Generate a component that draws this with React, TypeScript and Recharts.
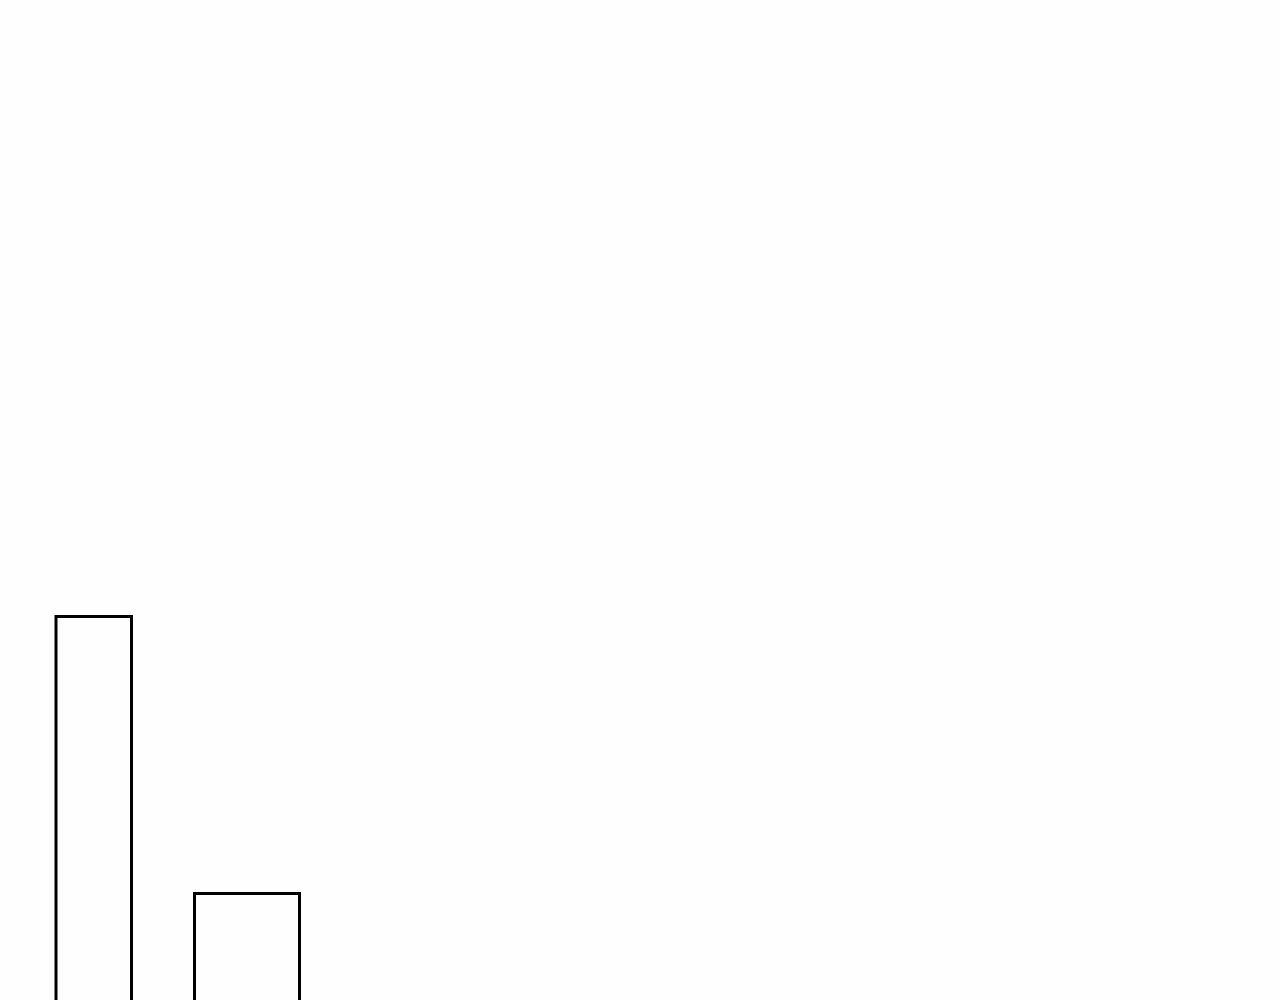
import { ComposedChart, XAxis, YAxis, ReferenceArea } from "recharts"

// variable-width bins: start / end on the x scale, and the count for each
const binStart = [5.6, 19.45]
const binEnd = [13.15, 29.95]
const counts = [60, 20]

const bins = binStart.map((start, i) => ({ start, end: binEnd[i], count: counts[i] }))

export default function App() {
  return (
    <div
      style={{
        position: "absolute",
        left: 0,
        top: 0,
        width: 1280,
        height: 1000,
        overflow: "hidden",
        background: "#fefefe",
      }}
    >
      <ComposedChart width={1280} height={1032} data={bins} margin={{ top: 0, right: 0, left: 0, bottom: 0 }}>
        <XAxis type="number" dataKey="start" domain={[0, 128]} hide allowDataOverflow />
        <YAxis type="number" domain={[0, 149]} hide allowDataOverflow />
        {bins.map((b, i) => (
          <ReferenceArea
            key={i}
            x1={b.start}
            x2={b.end}
            y1={0}
            y2={b.count}
            fill="none"
            fillOpacity={0}
            stroke="#000"
            strokeWidth={3}
            strokeOpacity={1}
            ifOverflow="visible"
          />
        ))}
      </ComposedChart>
    </div>
  )
}
